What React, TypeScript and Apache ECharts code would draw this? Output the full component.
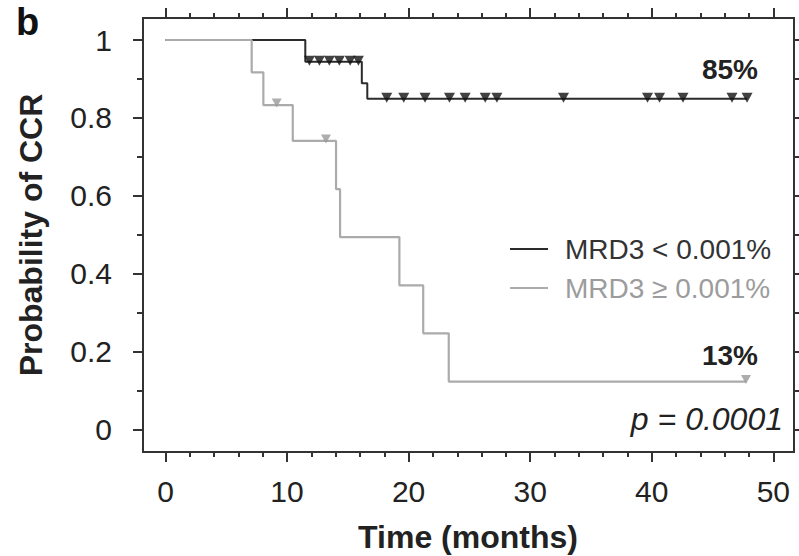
import React, { useEffect, useRef } from "react";
import * as echarts from "echarts";

// Kaplan–Meier curves (event times in months, survival after each step)
const lowTimes = [0, 11.5, 16.15, 16.6];
const lowSurv = [1, 0.944, 0.889, 0.849];
const lowEnd = 47.84;
const lowCensor = [11.84, 12.66, 13.48, 14.3, 15.19, 15.87, 18.2, 19.6, 21.35, 23.36, 24.65, 26.3, 27.26, 32.74, 39.65, 40.64, 42.57, 46.6, 47.84];

const highTimes = [0, 7.09, 8.05, 10.47, 14.03, 14.36, 19.24, 21.2, 23.3];
const highSurv = [1, 0.917, 0.833, 0.741, 0.617, 0.494, 0.37, 0.247, 0.123];
const highEnd = 47.75;
const highCensor = [9.15, 13.2, 47.75];

const xMajor = [0, 10, 20, 30, 40, 50];
const xMinor = [2, 4, 6, 8, 12, 14, 16, 18, 22, 24, 26, 28, 32, 34, 36, 38, 42, 44, 46, 48];
const yMajor = [0, 0.2, 0.4, 0.6, 0.8, 1];
const yMinor = [0.1, 0.3, 0.5, 0.7, 0.9];

const seriesNames = ["MRD3 < 0.001%", "MRD3 \u2265 0.001%"];
const endLabels = ["85%", "13%"];
const pText = "p = 0.0001";

const DARK = "#2b2b2b";
const GRAY = "#ababab";
const FONT = "'Liberation Sans', Arial, Helvetica, sans-serif";

function survAt(times: number[], surv: number[], t: number) {
  let s = surv[0];
  for (let i = 0; i < times.length; i++) if (times[i] <= t) s = surv[i];
  return s;
}
function curve(times: number[], surv: number[], end: number) {
  const d = times.map((t, i) => [t, surv[i]]);
  d.push([end, surv[surv.length - 1]]);
  return d;
}

export default function App() {
  const ref = useRef<HTMLDivElement>(null);
  useEffect(() => {
    if (!ref.current) return;
    const chart = echarts.init(ref.current, null, { renderer: "svg" });
    const axisLine = { show: true, onZero: false, lineStyle: { color: "#333", width: 2 } };
    const mkX = (pos: string, values: number[], len: number, labels: boolean) => ({
      type: "value",
      position: pos,
      min: -1.85,
      max: 51.7,
      axisLine,
      splitLine: { show: false },
      axisTick: { show: true, inside: false, length: len, customValues: values, lineStyle: { color: "#333", width: 2 } },
      axisLabel: labels
        ? { show: true, customValues: values, margin: 24, fontSize: 30, color: "#222", fontFamily: FONT }
        : { show: false },
    });
    const mkY = (pos: string, values: number[], len: number, labels: boolean) => ({
      type: "value",
      position: pos,
      min: -0.0578,
      max: 1.0565,
      axisLine,
      splitLine: { show: false },
      axisTick: { show: true, inside: false, length: len, customValues: values, lineStyle: { color: "#333", width: 2 } },
      axisLabel: labels
        ? {
            show: true,
            customValues: values,
            margin: 31,
            fontSize: 30,
            color: "#222",
            fontFamily: FONT,
            formatter: (v: number) => String(Math.round(v * 10) / 10),
          }
        : { show: false },
    });
    chart.setOption({
      animation: false,
      grid: { left: 143, right: 5, top: 18, bottom: 104, containLabel: false },
      xAxis: [
        mkX("bottom", xMajor, 10, true),
        mkX("bottom", xMinor, 5, false),
        mkX("top", xMajor, 10, false),
        mkX("top", xMinor, 5, false),
      ],
      yAxis: [
        mkY("left", yMajor, 10, true),
        mkY("left", yMinor, 6, false),
        mkY("right", yMajor, 10, false),
        mkY("right", yMinor, 6, false),
      ],
      legend: {
        orient: "vertical",
        left: 505,
        top: 229,
        itemGap: 9,
        itemWidth: 38,
        itemHeight: 2,
        icon: "rect",
        data: [
          { name: seriesNames[0], textStyle: { color: "#333" } },
          { name: seriesNames[1], textStyle: { color: "#9c9c9c" } },
        ],
        textStyle: { fontSize: 28, lineHeight: 30, fontFamily: FONT, padding: [0, 0, 0, 12] },
      },
      series: [
        {
          name: seriesNames[0],
          type: "line",
          step: "end",
          showSymbol: false,
          data: curve(lowTimes, lowSurv, lowEnd),
          lineStyle: { color: DARK, width: 2 },
          itemStyle: { color: DARK },
          z: 2,
        },
        {
          name: seriesNames[1],
          type: "line",
          step: "end",
          showSymbol: false,
          data: curve(highTimes, highSurv, highEnd),
          lineStyle: { color: GRAY, width: 2.2 },
          itemStyle: { color: GRAY },
          z: 3,
        },
        {
          name: "censored low",
          type: "scatter",
          symbol: "triangle",
          symbolRotate: 180,
          symbolSize: [11, 10],
          symbolOffset: [0, -1],
          itemStyle: { color: "#111" },
          data: lowCensor.map((t) => [t, survAt(lowTimes, lowSurv, t)]),
          z: 4,
        },
        {
          name: "censored high",
          type: "scatter",
          symbol: "triangle",
          symbolRotate: 180,
          symbolSize: [10, 9],
          symbolOffset: [0, -2],
          itemStyle: { color: "#999" },
          data: highCensor.map((t) => [t, survAt(highTimes, highSurv, t)]),
          z: 4,
        },
      ],
      graphic: [
        { type: "text", left: 16, top: 3, style: { text: "b", font: `bold 38px ${FONT}`, fill: "#111" } },
        {
          type: "text",
          x: 31,
          y: 235,
          rotation: Math.PI / 2,
          style: { text: "Probability of CCR", font: `bold 32px ${FONT}`, fill: "#222", align: "center", verticalAlign: "middle" },
        },
        {
          type: "text",
          x: 468,
          y: 537,
          style: { text: "Time (months)", font: `bold 32px ${FONT}`, fill: "#222", align: "center", verticalAlign: "middle" },
        },
        {
          type: "text",
          x: 758,
          y: 69,
          style: { text: endLabels[0], font: `bold 28px ${FONT}`, fill: "#222", align: "right", verticalAlign: "middle" },
        },
        {
          type: "text",
          x: 758,
          y: 355,
          style: { text: endLabels[1], font: `bold 28px ${FONT}`, fill: "#222", align: "right", verticalAlign: "middle" },
        },
        {
          type: "text",
          x: 783,
          y: 419,
          style: { text: pText, font: `italic 32px ${FONT}`, fill: "#222", align: "right", verticalAlign: "middle" },
        },
      ],
    });
    return () => chart.dispose();
  }, []);
  return <div ref={ref} style={{ position: "absolute", left: 0, top: 0, width: 799, height: 556, background: "#fff" }} />;
}
